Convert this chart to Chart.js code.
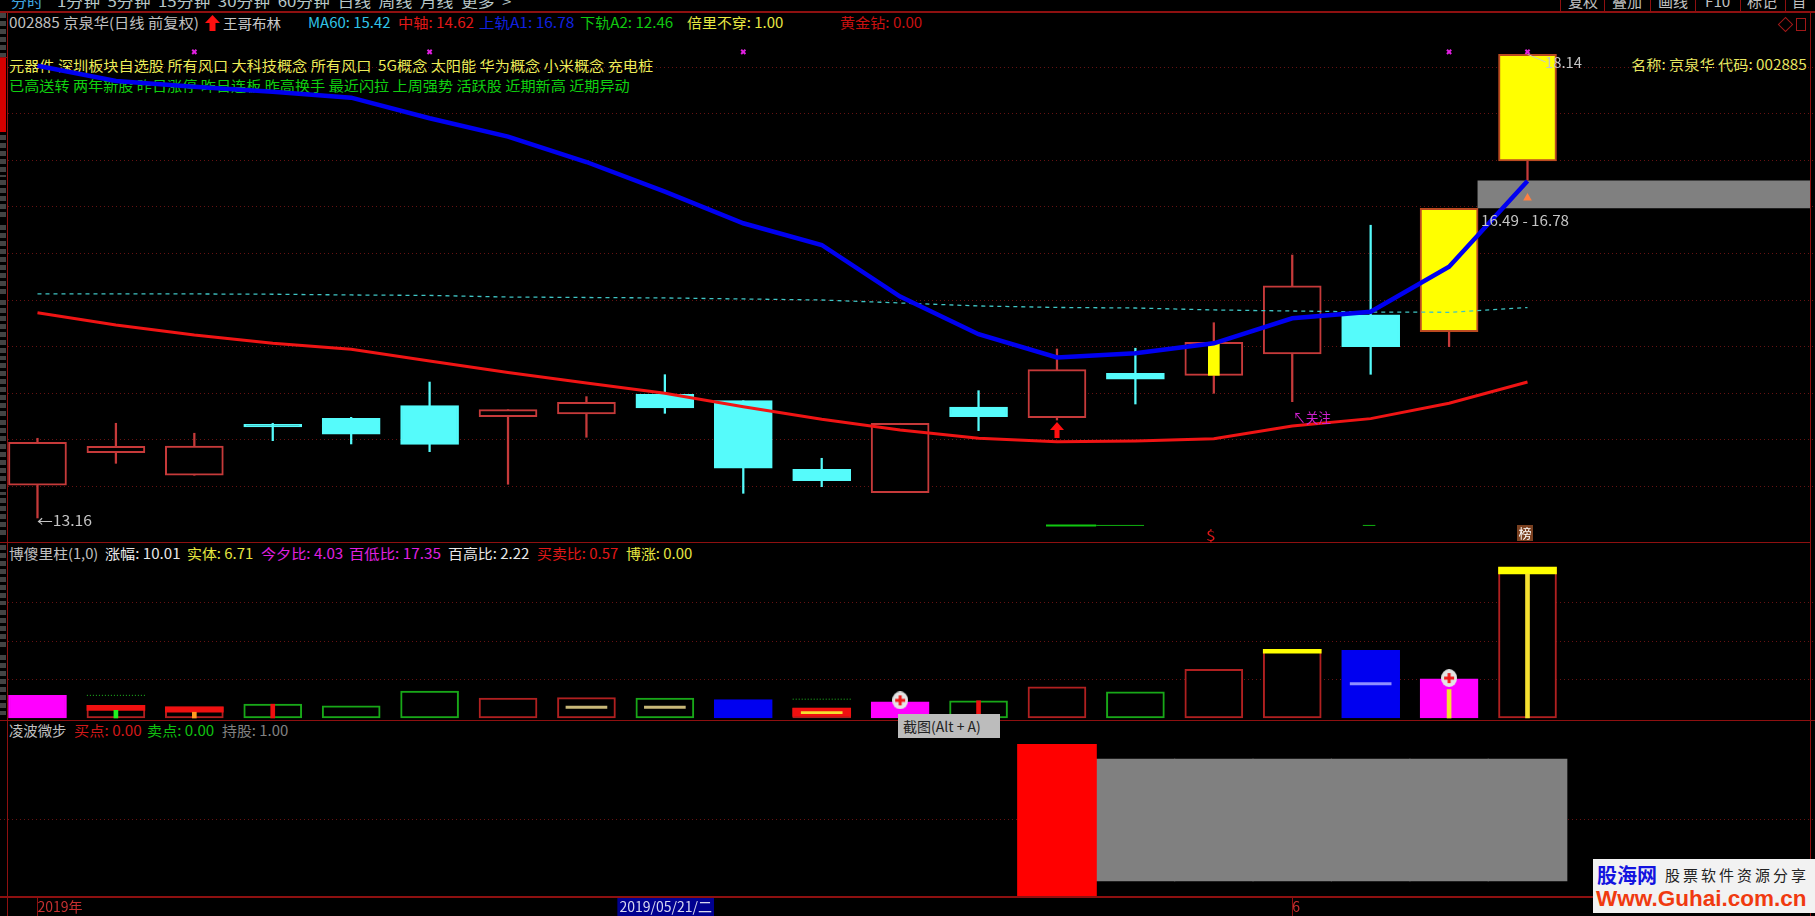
<!DOCTYPE html>
<html lang="zh"><head><meta charset="utf-8"><title>京泉华 日线</title>
<style>
html,body{margin:0;padding:0;background:#000;width:1815px;height:916px;overflow:hidden}
body{position:relative;font-family:"Noto Sans CJK SC","Noto Sans",sans-serif}
canvas{position:absolute;left:0;z-index:2}
.t{position:absolute;white-space:pre;font-size:14px;line-height:16px;transform-origin:0 50%}
.low{z-index:1}.high{z-index:4}
.rule{position:absolute;background:#8e1010;z-index:3}
.tab{position:absolute;left:0;width:6px;z-index:3;background:repeating-linear-gradient(180deg,#444 0 5px,#000 5px 8px)}
</style>
<script src="https://cdn.jsdelivr.net/npm/chart.js@4/dist/chart.umd.js"></script>
</head><body>
<canvas id="cMain" width="1815" height="530" style="top:12px"></canvas>
<canvas id="cSub" width="1815" height="177" style="top:543px"></canvas>
<canvas id="cLow" width="1815" height="195" style="top:721px"></canvas>
<script>
// ---------- data ----------
const categories = ['05/10','05/13','05/14','05/15','05/16','05/17','05/20','05/21','05/22','05/23',
                    '05/24','05/27','05/28','05/29','05/30','05/31','06/03','06/04','06/05','06/06'];
const opens  = [13.511,13.861,13.619,14.166,14.231,14.366,14.248,14.277,14.488,14.420,13.683,13.432,14.352,14.237,14.714,14.692,14.921,15.343,15.161,16.994];
const closes = [13.973,13.930,13.933,14.137,14.059,13.951,14.323,14.403,14.341,13.694,13.560,14.177,14.248,14.753,14.650,15.047,15.652,15.000,16.486,18.140];
const highs  = [14.016,14.177,14.070,14.177,14.241,14.620,14.323,14.463,14.699,14.420,13.801,14.177,14.527,14.975,14.983,15.257,15.984,16.304,16.486,18.140];
const lows   = [13.160,13.747,13.619,13.990,13.955,13.872,13.522,14.027,14.284,13.425,13.496,13.432,14.098,14.212,14.384,14.499,14.409,14.703,15.000,16.790];
const ma60   = [15.566,15.566,15.566,15.563,15.555,15.550,15.533,15.528,15.523,15.512,15.501,15.469,15.437,15.421,15.415,15.394,15.383,15.372,15.369,15.420];
const upperA1= [18.017,17.853,17.792,17.738,17.674,17.453,17.255,16.983,16.664,16.325,16.092,15.537,15.133,14.884,14.929,15.036,15.305,15.375,15.859,16.780];
const midLine= [15.365,15.233,15.125,15.036,14.972,14.846,14.722,14.610,14.499,14.355,14.220,14.105,14.016,13.979,13.987,14.012,14.148,14.227,14.392,14.620];
const priceTicks = [18,17.5,17,16.5,16,15.5,15,14.5,14,13.5];
const crossMarks = [[2,18.165],[5,18.165],[9,18.165],[18,18.165],[19,18.165]];
const limitUpDays = [18,19];
const yellowStripe = [[15,14.692,15.047]];
const greyZone = [[20.484,16.49,16.78]];
const triangleMark = [[19,16.596]];
const upArrowMark = [[13,14.105]];
const peakLeader = [[19,18.14],[19.23,18.057]];
const signalThick = [[12.86,13.08],[13.5,13.08]];
const signalThin  = [[13.5,13.08],[14.11,13.08],[null,null],[16.9,13.08],[17.06,13.08]];

const volumes = [0.59,0.33,0.29,0.36,0.32,0.70,0.52,0.53,0.52,0.48,0.26,0.42,0.45,0.81,0.68,1.27,1.79,1.76,1.02,3.93];
const volKind = ['magenta','red','red','green','green','green','red','red','green','blue','red','magenta','green','red','green','red','red','blue','magenta','red'];
const volTicks = [1,2,3];
const capRed    = [[1,0.20,0.33],[2,0.15,0.29],[10,0.04,0.26]];
const capYellow = [[16,1.69,1.79],[19,3.75,3.93]];
const stubs = [[1,0.20,'green'],[2,0.15,'orange'],[3,0.36,'red'],[12,0.45,'red'],[18,0.74,'gold'],[19,3.75,'gold']];
const innerLines = [[7,0.28,'khaki'],[8,0.28,'khaki'],[10,0.14,'gold'],[17,0.89,'periwinkle']];
const dottedLevels = [[0.63,0.59],[1.37,0.59],[null,null],[9.63,0.49],[10.37,0.49]];
const plusMarks = [[11,0.46],[18,1.04]];

const holdDays = [14,15,16,17,18,19];
const buyDays = [13];
const lowTicks = [0.5];
const xTickPositions = [0,7.42,16];
const xTickLabels = ['2019年','2019/05/21/二','6'];

// ---------- palette ----------
const RED='#c63a3a', CYAN='#55fbfb', YEL='#ffff00', GRID='#661212';
const kindColor={magenta:'#ff00ff',blue:'#0000f0',red:'#b02020',green:'#18a818',
  orange:'#ff9a20',gold:'#f5e030',khaki:'#c8b878',periwinkle:'#8f8fff'};
const stubColor=k=>k==='red'?'#f01010':k==='green'?'#20f020':kindColor[k];

// ---------- shared scale config: index i sits at 37.5 + 78.42 i px ----------
const xScale=()=>({type:'linear',min:-0.478,max:22.666,offset:false,display:false,grid:{display:false,offset:false}});
const yScale=(min,max,ticks)=>({type:'linear',min,max,position:'left',
  afterBuildTicks:s=>{s.ticks=ticks.map(v=>({value:v}))},
  ticks:{display:false},border:{display:false,dash:[1,3]},
  grid:{color:GRID,lineWidth:1,drawTicks:false,tickLength:0}});
const base={responsive:false,animation:false,events:[],layout:{padding:0,autoPadding:false},
  plugins:{legend:{display:false},tooltip:{enabled:false}}};
const line=(data,color,width,order,extra={})=>Object.assign({type:'line',data,borderColor:color,borderWidth:width,
  pointRadius:0,tension:0,order,spanGaps:false,fill:false},extra);
const bar=(data,thick,color,order,extra={})=>Object.assign({type:'bar',data,barThickness:thick,backgroundColor:color,
  borderWidth:0,grouped:false,order,borderSkipped:false},extra);
const pts=a=>a.map(p=>({x:p[0],y:p[1]}));

function iconCanvas(draw,w,h){const c=document.createElement('canvas');c.width=w;c.height=h;draw(c.getContext('2d'),w,h);return c}
const arrowIcon=iconCanvas((g,w,h)=>{g.fillStyle='#ff1010';g.beginPath();
  g.moveTo(w/2,0);g.lineTo(w,h*.5);g.lineTo(w*.68,h*.5);g.lineTo(w*.68,h);g.lineTo(w*.32,h);g.lineTo(w*.32,h*.5);g.lineTo(0,h*.5);g.closePath();g.fill()},14,16);
const plusIcon=iconCanvas((g,w,h)=>{g.fillStyle='#e4e4e4';g.beginPath();g.ellipse(w/2,h/2,w/2,h/2,0,0,7);g.fill();
  g.fillStyle='#f01818';g.fillRect(w/2-1.5,h/2-5,3,10);g.fillRect(w/2-5,h/2-1.5,10,3)},16,18);

// ---------- main price panel ----------
const isLimit=i=>limitUpDays.includes(i), isUp=i=>closes[i]>=opens[i];
const bodyColor=i=>isLimit(i)?YEL:isUp(i)?'#000':CYAN;
const bodyBorder=i=>isLimit(i)?'#bb4a20':isUp(i)?RED:CYAN;
new Chart(document.getElementById('cMain'),{type:'bar',data:{datasets:[
  line(upperA1.map((y,x)=>({x,y})),'#0000f0',4.5,1,{label:'上轨A1'}),
  line(midLine.map((y,x)=>({x,y})),'#f01414',3,2,{label:'中轴'}),
  line(ma60.map((y,x)=>({x,y})),'#3fc4c4',1.3,3,{label:'MA60',borderDash:[4,4]}),
  {type:'scatter',data:pts(crossMarks),pointStyle:'crossRot',pointRadius:3,pointBorderWidth:2,borderColor:'#e020e0',pointBorderColor:'#e020e0',order:0},
  {type:'scatter',data:pts(triangleMark),pointStyle:'triangle',pointRadius:5,pointBackgroundColor:'#ff8040',pointBorderWidth:0,order:0},
  {type:'scatter',data:pts(upArrowMark),pointStyle:arrowIcon,order:0},
  line(pts(peakLeader),'#c8c8c8',1,0),
  line(pts(signalThick),'#10c810',2,4),
  line(pts(signalThin),'#10b010',1,4),
  bar(yellowStripe.map(p=>({x:p[0],y:[p[1],p[2]]})),11,YEL,5),
  bar(opens.map((o,x)=>({x,y:[o,closes[x]]})),58,categories.map((_,i)=>bodyColor(i)),6,
      {borderWidth:2,borderColor:categories.map((_,i)=>bodyBorder(i))}),
  bar(lows.map((l,x)=>({x,y:[l,highs[x]]})),1.6,categories.map((_,i)=>isUp(i)?RED:CYAN),7),
  bar(greyZone.map(p=>({x:p[0],y:[p[1],p[2]]})),332,'#808080',8)
]},options:Object.assign({},base,{scales:{x:xScale(),y:yScale(12.902,18.594,priceTicks)}})});

// ---------- volume panel ----------
new Chart(document.getElementById('cSub'),{type:'bar',data:{datasets:[
  {type:'scatter',data:pts(plusMarks),pointStyle:plusIcon,order:0},
  line(pts(dottedLevels),'#20c020',1,1,{borderDash:[1,2]}),
  bar(innerLines.map(p=>({x:p[0],y:[p[1]-0.03,p[1]+0.03]})),41,innerLines.map(p=>kindColor[p[2]]),2),
  bar(stubs.map(p=>({x:p[0],y:[0,p[1]]})),4,stubs.map(p=>stubColor(p[2])),3),
  bar(capRed.map(p=>({x:p[0],y:[p[1],p[2]]})),58,'#f01010',4),
  bar(capYellow.map(p=>({x:p[0],y:[p[1],p[2]]})),58,YEL,4),
  bar(volumes.map((v,x)=>({x,y:[0,v]})),58,volKind.map(k=>(k==='magenta'||k==='blue')?kindColor[k]:'#000'),5,
      {borderWidth:2,borderColor:volKind.map(k=>kindColor[k])})
]},options:Object.assign({},base,{scales:{x:xScale(),y:yScale(-0.052,4.557,volTicks)}})});

// ---------- position panel ----------
const lowX=xScale();
Object.assign(lowX,{display:true,
  afterBuildTicks:s=>{s.ticks=xTickPositions.map(v=>({value:v}))},
  afterFit:s=>{s.height=19},
  border:{display:false},
  grid:{display:true,drawOnChartArea:false,drawTicks:true,tickLength:19,offset:false,
        tickColor:c=>c.index===1?'rgba(0,0,0,0)':'#8e1010'},
  ticks:{autoSkip:false,maxRotation:0,minRotation:0,align:'start',padding:-18,
        font:{family:'"Liberation Sans Narrow","Noto Sans CJK SC",sans-serif',size:14},
        color:c=>c.index===1?'#d8d8f0':'#c63030',
        showLabelBackdrop:c=>c.index===1,backdropColor:'#000090',backdropPadding:{x:2,y:2},
        callback:(v,i)=>xTickLabels[i]}});
new Chart(document.getElementById('cLow'),{type:'bar',data:{datasets:[
  bar(buyDays.map(x=>({x,y:[-0.12,1.12]})),79,'#ff0000',1,{label:'买点'}),
  bar(holdDays.map(x=>({x,y:[0,1]})),79,'#808080',2,{label:'持股'})
]},options:Object.assign({},base,{scales:{x:lowX,y:yScale(-0.131,1.311,lowTicks)}})});

// ---------- real-text captions: [text, x0, x1, centre y, colour, layer] ----------
const texts=[
 ['分时',11,43,1,'#40a8e0'],['1分钟  5分钟  15分钟  30分钟  60分钟  日线  周线  月线  更多  >',57,511,1,'#b8c8c8'],
 ['复权',1568,1598,1,'#c0c0c0'],['叠加',1612,1642,1,'#c0c0c0'],['画线',1658,1688,1,'#c0c0c0'],['F10',1705,1730,1,'#c0c0c0'],['标记',1747,1777,1,'#c0c0c0'],['自',1792,1806,1,'#c0c0c0'],
 ['002885 京泉华(日线 前复权)',8.6,198,22.2,'#c0c0c0'],['王哥布林',223,281,22.5,'#c8c8c8'],
 ['MA60: 15.42',308,390,22.2,'#30c4e8'],['中轴: 14.62',398,474,22.2,'#e01818'],['上轨A1: 16.78',479,574,22.2,'#1020e0'],
 ['下轨A2: 12.46',580,673,22.2,'#10c810'],['倍里不穿: 1.00',687,783,22.2,'#e6e640'],['黄金钻: 0.00',840,922,22.2,'#c81010'],
 ['元器件 深圳板块自选股 所有风口 大科技概念 所有风口  5G概念 太阳能 华为概念 小米概念 充电桩',8.6,653,64.7,'#ecec58'],
 ['已高送转 两年新股 昨日涨停 昨日连板 昨高换手 最近闪拉 上周强势 活跃股 近期新高 近期异动',8.6,629,84.7,'#10d010'],
 ['名称: 京泉华 代码: 002885',1631,1807,64.3,'#e6e660'],
 ['博傻里柱(1,0)',8.6,98,553,'#c0c0c0'],['涨幅: 10.01',104.5,180,553,'#e8e8e8'],['实体: 6.71',187,253,553,'#e6e640'],
 ['今夕比: 4.03',261,343,553,'#e020e0'],['百低比: 17.35',349,441,553,'#e020e0'],['百高比: 2.22',448,529,553,'#e8e8e8'],
 ['买卖比: 0.57',537,618,553,'#e01818'],['博涨: 0.00',626,692,553,'#e6e640'],
 ['凌波微步',8.6,66,730,'#c0c0c0'],['买点: 0.00',73.5,141,730,'#d01818'],['卖点: 0.00',147,214,730,'#10c010'],['持股: 1.00',222,288,730,'#808080'],
 ['←13.16',37,92,520,'#c4c4c4','high'],['18.14',1545,1582,61.7,'#c4c4c4','high'],['16.49 - 16.78',1481,1569,220,'#c4c4c4','high'],
 ['↖关注',1293,1331,416.7,'#d020d0','high'],['$',1206,1216,535,'#e01818','high']
];
texts.forEach(([s,x0,x1,y,c,layer])=>{const e=document.createElement('span');e.className='t '+(layer||'low');e.textContent=s;
  e.style.left=x0+'px';e.style.top=(y-8)+'px';e.style.color=c;document.body.appendChild(e);
  e.style.transform='scaleX('+((x1-x0)/e.offsetWidth).toFixed(3)+')';});

// ---------- frame, tabs, small widgets ----------
const add=(css,cls='rule',txt)=>{const d=document.createElement('div');d.className=cls;d.style.cssText=css;if(txt)d.textContent=txt;document.body.appendChild(d);return d};
[['left:0;top:11px;width:1815px;height:2px'],['left:0;top:542px;width:1810px;height:1px'],['left:0;top:720px;width:1815px;height:1px'],
 ['left:0;top:896px;width:1815px;height:2px'],['left:7px;top:11px;width:1px;height:905px'],['left:1810px;top:11px;width:1px;height:905px']].forEach(r=>add(r[0]));
[1560,1604,1650,1695,1740,1785].forEach(x=>add('left:'+x+'px;top:0;width:1px;height:11px'));
[[13,47],[60,72],[135,42],[180,40],[225,70],[300,60],[363,55],[420,75],[498,40],[545,60],[610,40],[655,60]].forEach(([y,h])=>add('top:'+y+'px;height:'+h+'px','tab'));
add('position:absolute;left:0;top:58px;width:6px;height:74px;background:#d40000;z-index:3','x');
add('left:0;top:57px;width:7px;height:1px');
add('position:absolute;left:205px;top:15px;width:15px;height:16px;background:#ff1010;z-index:3;clip-path:polygon(50% 0,100% 50%,70% 50%,70% 100%,30% 100%,30% 50%,0 50%)','x');
// diamond and window icons at top right
add('position:absolute;left:1780px;top:19px;width:9px;height:9px;border:1px solid #a01818;transform:rotate(45deg);z-index:3','x');
add('position:absolute;left:1796px;top:18px;width:8px;height:11px;border:1px solid #a01818;z-index:3','x');
// 榜 badge
add('position:absolute;left:1517px;top:525px;width:16px;height:16px;background:#7a4020;color:#fff;font-size:13px;line-height:16px;text-align:center;z-index:4','x','榜');
// screenshot hint
add('position:absolute;left:898px;top:714px;width:102px;height:24px;background:#bcbcbc;color:#222;font-size:14px;line-height:24px;white-space:pre;text-indent:5px;z-index:5','x','截图(Alt + A)');
// watermark
const wm=add('position:absolute;left:1593px;top:859px;width:222px;height:54px;background:#f2f2f2;z-index:6;overflow:hidden','x');
wm.innerHTML='<span style="position:absolute;left:4px;top:2px;font:bold 20px/28px \'Noto Sans CJK SC\';color:#1414e0">股海网</span>'+
 '<span style="position:absolute;left:72px;top:4px;width:143px;font:15px/24px \'Noto Sans CJK SC\';color:#222;letter-spacing:3px;white-space:nowrap">股票软件资源分享</span>'+
 '<span style="position:absolute;left:3px;top:26px;font:bold 22.5px/28px \'Liberation Sans\';color:#f03a10;white-space:nowrap">Www.Guhai.com.cn</span>';
</script>
</body></html>
